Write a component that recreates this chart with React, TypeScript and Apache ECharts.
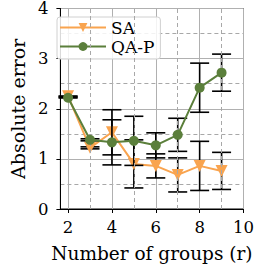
import React, { useEffect, useRef } from "react";
import * as echarts from "echarts";

const groups = [2, 3, 4, 5, 6, 7, 8, 9];
const saMean = [2.25, 1.22, 1.53, 0.9, 0.86, 0.68, 0.86, 0.76];
const saErr = [0, 0.02, 0.45, 0.48, 0.24, 0.34, 0.49, 0.37];
const qaMean = [2.22, 1.38, 1.33, 1.36, 1.27, 1.48, 2.42, 2.72];
const qaErr = [0, 0.02, 0.45, 0.49, 0.25, 0.33, 0.49, 0.37];
const xTicks = [2, 4, 6, 8, 10];
const xMinorGrid = [3, 5, 7, 9];

const FONT = "'DejaVu Serif', serif";
const ORANGE = "#f9a44f";
const GREEN = "#5b7f3b";

function errRender(params: any, api: any) {
  const x = api.value(0);
  const lo = api.coord([x, api.value(1)]);
  const hi = api.coord([x, api.value(2)]);
  const cap = 9.5;
  const st = { stroke: "#000", lineWidth: 1.6 };
  return {
    type: "group",
    children: [
      { type: "line", shape: { x1: lo[0], y1: lo[1], x2: hi[0], y2: hi[1] }, style: st },
      { type: "line", shape: { x1: lo[0] - cap, y1: lo[1], x2: lo[0] + cap, y2: lo[1] }, style: st },
      { type: "line", shape: { x1: hi[0] - cap, y1: hi[1], x2: hi[0] + cap, y2: hi[1] }, style: st },
    ],
  };
}

export default function App() {
  const ref = useRef<HTMLDivElement>(null);
  useEffect(() => {
    const chart = echarts.init(ref.current!, null, { renderer: "svg" });
    const saData = groups.map((g, i) => [g, saMean[i]]);
    const qaData = groups.map((g, i) => [g, qaMean[i]]);
    const saErrData = groups.map((g, i) => [g, saMean[i] - saErr[i], saMean[i] + saErr[i]]);
    const qaErrData = groups.map((g, i) => [g, qaMean[i] - qaErr[i], qaMean[i] + qaErr[i]]);
    chart.setOption({
      animation: false,
      textStyle: { fontFamily: FONT },
      grid: {
        left: 49,
        right: 10,
        top: 8,
        bottom: 54,
        show: true,
        borderColor: "#000",
        borderWidth: 1,
        backgroundColor: "transparent",
      },
      legend: {
        left: 57,
        top: 17,
        orient: "vertical",
        itemWidth: 46,
        itemHeight: 11,
        itemGap: 2,
        padding: [2, 6, 4, 2],
        borderColor: "#d0d0d0",
        borderWidth: 1,
        borderRadius: 3,
        backgroundColor: "rgba(255,255,255,0.85)",
        textStyle: {
          fontFamily: FONT,
          fontSize: 17,
          lineHeight: 15,
          color: "#000",
        },
        data: ["SA", "QA-P"],
      },
      xAxis: {
        type: "value",
        min: 1.65,
        max: 10,
        minInterval: 2,
        maxInterval: 2,
        name: "Number of groups (r)",
        nameLocation: "middle",
        nameGap: 35,
        nameTextStyle: { fontFamily: FONT, fontSize: 18.5, color: "#000" },
        axisLine: { show: true, onZero: false, lineStyle: { color: "#000", width: 1 } },
        axisTick: { show: true, length: 4, customValues: xTicks, lineStyle: { color: "#000" } },
        axisLabel: {
          customValues: xTicks,
          fontFamily: FONT,
          fontSize: 16.5,
          color: "#000",
          margin: 10,
        },
        splitLine: { show: true, lineStyle: { color: "#b0b0b0", width: 1 } },
      },
      yAxis: {
        type: "value",
        min: 0,
        max: 4,
        interval: 1,
        name: "Absolute error",
        nameLocation: "middle",
        nameGap: 19,
        nameTextStyle: { fontFamily: FONT, fontSize: 19, color: "#000" },
        axisLine: { show: true, lineStyle: { color: "#000", width: 1 } },
        axisTick: { show: true, length: 4, lineStyle: { color: "#000" } },
        axisLabel: { fontFamily: FONT, fontSize: 16.5, color: "#000", margin: 12 },
        splitLine: { show: true, lineStyle: { color: "#b0b0b0", width: 1 } },
        minorTick: { show: false, splitNumber: 2 },
        minorSplitLine: { show: true, lineStyle: { color: "#a8a8a8", width: 1, type: [4, 3] } },
      },
      series: [
        {
          type: "custom",
          name: "saErr",
          renderItem: errRender,
          data: saErrData,
          z: 2,
          encode: { x: 0, y: [1, 2] },
          silent: true,
          markLine: {
            silent: true,
            symbol: "none",
            label: { show: false },
            lineStyle: { color: "#a8a8a8", width: 1, type: [4, 3] },
            data: xMinorGrid.map((v) => ({ xAxis: v })),
          },
        },
        {
          type: "line",
          name: "SA",
          data: saData,
          z: 3,
          symbol: "triangle",
          symbolRotate: 180,
          symbolSize: 12,
          color: ORANGE,
          lineStyle: { color: ORANGE, width: 2 },
          itemStyle: { color: ORANGE },
        },
        {
          type: "custom",
          name: "qaErr",
          renderItem: errRender,
          data: qaErrData,
          z: 4,
          encode: { x: 0, y: [1, 2] },
          silent: true,
        },
        {
          type: "line",
          name: "QA-P",
          data: qaData,
          z: 5,
          symbol: "circle",
          symbolSize: 10,
          color: GREEN,
          lineStyle: { color: GREEN, width: 2 },
          itemStyle: { color: GREEN },
        },
      ],
    });
    return () => chart.dispose();
  }, []);
  return <div ref={ref} style={{ width: 257, height: 268, position: "absolute", left: 0, top: 0 }} />;
}
